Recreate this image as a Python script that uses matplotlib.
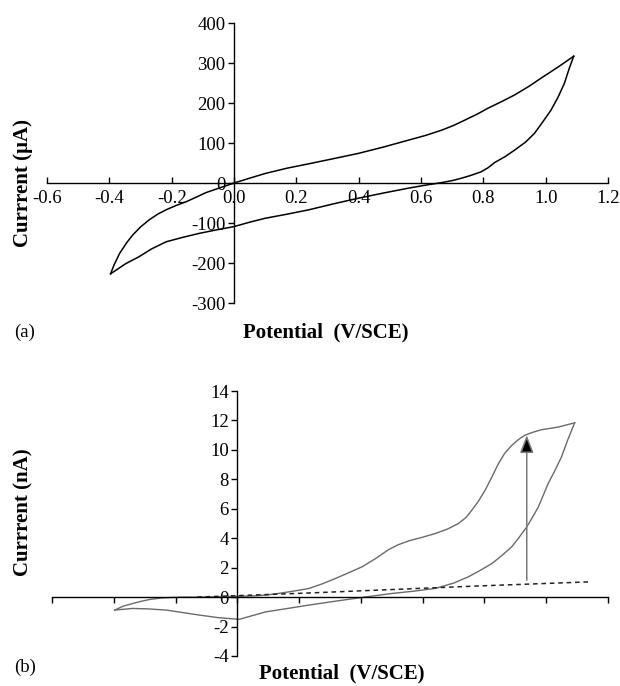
import matplotlib
matplotlib.use('Agg')
from matplotlib import pyplot as plt

# (a) voltammogram, uA
a_fwd_v = [-0.396, -0.385, -0.367, -0.345, -0.325, -0.3, -0.272, -0.245, -0.218, -0.185,
           -0.154, -0.12, -0.09, -0.045, 0.0, 0.05, 0.101, 0.17, 0.24, 0.32,
           0.399, 0.48, 0.559, 0.615, 0.666, 0.705, 0.74, 0.78, 0.815, 0.86,
           0.9, 0.945, 0.985, 1.04, 1.09]
a_fwd_i = [-227, -205, -176, -150, -130, -110, -92, -78, -67, -56,
           -47, -35, -24, -12, 0, 12, 24, 37, 48, 61,
           74, 90, 107, 119, 132, 144, 157, 172, 187, 204,
           220, 241, 262, 290, 317]
a_rev_v = [1.09, 1.075, 1.06, 1.04, 1.017, 0.99, 0.964, 0.935, 0.9, 0.87,
           0.836, 0.815, 0.793, 0.76, 0.73, 0.70, 0.666, 0.61, 0.559, 0.48,
           0.399, 0.32, 0.24, 0.17, 0.101, 0.05, 0.0, -0.055, -0.112, -0.165,
           -0.218, -0.265, -0.304, -0.346, -0.396]
a_rev_i = [317, 285, 249, 215, 182, 152, 124, 102, 82, 66,
           51, 38, 28, 19, 12, 6, 1, -6, -13, -25,
           -38, -52, -67, -78, -88, -98, -109, -117, -126, -136,
           -147, -165, -184, -201, -227]

# (b) voltammogram, nA
b_fwd_v = [-0.397, -0.37, -0.338, -0.31, -0.284, -0.241, -0.18, -0.12, -0.06, 0.0,
           0.05, 0.093, 0.13, 0.168, 0.2, 0.232, 0.275, 0.318, 0.36, 0.404,
           0.45, 0.49, 0.52, 0.555, 0.6, 0.641, 0.68, 0.716, 0.74, 0.759,
           0.78, 0.802, 0.825, 0.845, 0.865, 0.888, 0.91, 0.931, 0.96, 0.985,
           1.039, 1.092]
b_fwd_i = [-0.88, -0.62, -0.43, -0.28, -0.16, -0.05, 0.0, 0.0, 0.02, 0.05,
           0.08, 0.14, 0.24, 0.36, 0.47, 0.59, 0.9, 1.27, 1.65, 2.06,
           2.65, 3.23, 3.55, 3.82, 4.07, 4.32, 4.62, 5.0, 5.4, 5.9,
           6.5, 7.25, 8.2, 9.06, 9.75, 10.3, 10.7, 11.0, 11.22, 11.37,
           11.55, 11.84]
b_rev_v = [1.092, 1.07, 1.049, 1.027, 1.006, 0.99, 0.974, 0.955, 0.937, 0.912,
           0.888, 0.855, 0.824, 0.785, 0.748, 0.7, 0.641, 0.57, 0.501, 0.394,
           0.31, 0.232, 0.16, 0.093, 0.05, 0.006, -0.06, -0.123, -0.18, -0.23,
           -0.29, -0.338, -0.397]
b_rev_i = [11.84, 10.7, 9.5, 8.55, 7.7, 6.9, 6.1, 5.4, 4.77, 4.05,
           3.41, 2.8, 2.28, 1.8, 1.38, 0.95, 0.59, 0.4, 0.25, -0.05,
           -0.3, -0.54, -0.78, -1.0, -1.25, -1.51, -1.4, -1.22, -1.04, -0.88,
           -0.8, -0.77, -0.88]

# background (dashed)
bg_v = [-0.13, 0.232, 0.77, 1.145]
bg_i = [0.0, 0.28, 0.75, 1.04]

# arrow (from background up to the curve)
arrow_v = 0.937
arrow_i = [1.15, 11.0]

plt.rcParams['font.family'] = 'Liberation Serif'
plt.rcParams['axes.unicode_minus'] = False

fig = plt.figure(figsize=(6.2, 6.86), dpi=100)

def style_axes(ax, xdir):
    ax.spines['left'].set_position(('data', 0))
    ax.spines['bottom'].set_position(('data', 0))
    ax.spines['top'].set_visible(False)
    ax.spines['right'].set_visible(False)
    for s in ('left', 'bottom'):
        ax.spines[s].set_linewidth(1.0)
    ax.tick_params(axis='y', direction='out', length=4, width=1.0, pad=2, labelsize=13.5)
    ax.tick_params(axis='x', direction=xdir, length=4, width=1.0, pad=5, labelsize=13.5)
    ax.patch.set_visible(False)

# --- panel (a)
ax1 = fig.add_axes([47/620, 1-303/686, 561/620, 280/686])
ax1.plot(a_fwd_v, a_fwd_i, color='black', lw=1.1)
ax1.plot(a_rev_v, a_rev_i, color='black', lw=1.1)
ax1.set_xlim(-0.6, 1.2)
ax1.set_ylim(-300, 400)
ax1.set_xticks([-0.6, -0.4, -0.2, 0.0, 0.2, 0.4, 0.6, 0.8, 1.0, 1.2])
ax1.set_xticklabels(['-0.6', '-0.4', '-0.2', '0.0', '0.2', '0.4', '0.6', '0.8', '1.0', '1.2'])
ax1.set_yticks(range(-300, 401, 100))
style_axes(ax1, 'in')

# --- panel (b)
ax2 = fig.add_axes([52/620, 1-656/686, 556/620, 265/686])
ax2.plot(b_fwd_v, b_fwd_i, color='#6a6a6a', lw=1.0)
ax2.plot(b_rev_v, b_rev_i, color='#6a6a6a', lw=1.0)
ax2.plot(bg_v, bg_i, color='#222222', lw=1.1, ls=(0, (3, 2.5)))
ax2.annotate('', xy=(arrow_v, arrow_i[1]), xytext=(arrow_v, arrow_i[0]),
             arrowprops=dict(arrowstyle='-|>,head_length=0.9,head_width=0.35',
                             ec='#7a7a7a', fc='black', lw=1.1, mutation_scale=12,
                             shrinkA=0, shrinkB=0))
ax2.set_xlim(-0.6, 1.2)
ax2.set_ylim(-4, 14)
ax2.set_xticks([-0.6, -0.4, -0.2, 0.0, 0.2, 0.4, 0.6, 0.8, 1.0, 1.2])
ax2.set_xticklabels([])
ax2.set_yticks(range(-4, 15, 2))
style_axes(ax2, 'out')

# labels
fig.text(23/620, 1-183/686, 'Currrent (µA)', rotation=90, ha='center', va='center',
         fontsize=15, fontweight='bold')
fig.text(23/620, 1-512/686, 'Currrent (nA)', rotation=90, ha='center', va='center',
         fontsize=15, fontweight='bold')
fig.text(326/620, 1-332/686, 'Potential  (V/SCE)', ha='center', va='center',
         fontsize=15, fontweight='bold')
fig.text(342/620, 1-673/686, 'Potential  (V/SCE)', ha='center', va='center',
         fontsize=15, fontweight='bold')
fig.text(25/620, 1-332/686, '(a)', ha='center', va='center', fontsize=13.5)
fig.text(25/620, 1-667/686, '(b)', ha='center', va='center', fontsize=13.5)

plt.savefig('out.png', dpi=100)
